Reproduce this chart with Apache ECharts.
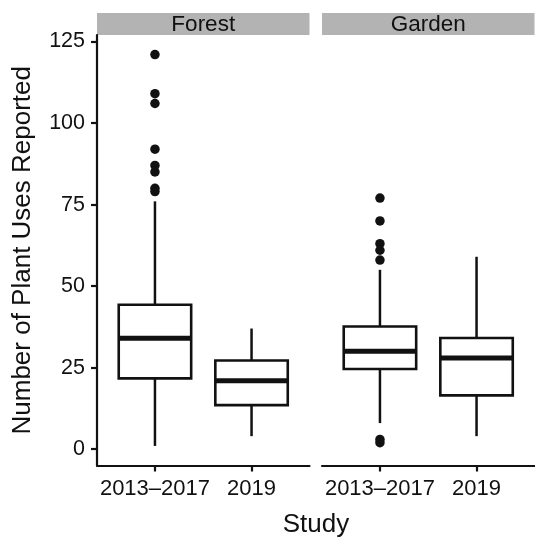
<!DOCTYPE html>
<html>
<head>
<meta charset="utf-8">
<script src="https://cdn.jsdelivr.net/npm/echarts@6/dist/echarts.min.js"></script>
<style>
  html, body { margin: 0; padding: 0; background: #fff; }
  #chart { width: 535px; height: 537px; }
</style>
</head>
<body>
<div id="chart"></div>
<script>
// Panels and study groups
const habitats = ['Forest', 'Garden'];
const studyLabels = ['2013–2017', '2019'];

// Box summaries per study: [lower whisker, Q1, median, Q3, upper whisker]
const forestBoxes = [
  [1, 21.7, 34, 44.3, 76],
  [4, 13.5, 21, 27.2, 37]
];
const gardenBoxes = [
  [8, 24.6, 30, 37.6, 55],
  [4, 16.5, 28, 34.1, 59]
];

// Outlying values (all in the 2013–2017 group)
const forestOutliers = [121, 109, 106, 92, 87, 85, 80, 79];
const gardenOutliers = [77, 70, 63, 61, 58, 3, 2];

const yTicks = [0, 25, 50, 75, 100, 125];

const FONT = '"Liberation Sans", Arial, Helvetica, sans-serif';
const INK = '#111111';
const BOX_WIDTH = 0.75;        // in x-axis units (groups at 1 and 2)
const PANEL_TOP = 35;
const PANEL_HEIGHT = 430.5;
const panelLeft = [97, 322];
const PANEL_WIDTH = 212.5;

function boxData(boxes) {
  return boxes.map((b, i) => [i + 1].concat(b));
}
function outlierData(values) {
  return values.map(v => [1, v]);
}

function renderBox(params, api) {
  const x = api.value(0);
  const pMin = api.coord([x, api.value(1)]);
  const pQ1 = api.coord([x, api.value(2)]);
  const pMed = api.coord([x, api.value(3)]);
  const pQ3 = api.coord([x, api.value(4)]);
  const pMax = api.coord([x, api.value(5)]);
  const half = api.size([BOX_WIDTH, 0])[0] / 2;
  const thin = { stroke: INK, lineWidth: 2.5, fill: null };
  return {
    type: 'group',
    children: [
      { type: 'line', shape: { x1: pMin[0], y1: pMin[1], x2: pQ1[0], y2: pQ1[1] }, style: thin },
      { type: 'line', shape: { x1: pQ3[0], y1: pQ3[1], x2: pMax[0], y2: pMax[1] }, style: thin },
      { type: 'rect', shape: { x: pQ3[0] - half, y: pQ3[1], width: half * 2, height: pQ1[1] - pQ3[1] },
        style: { fill: '#ffffff', stroke: INK, lineWidth: 2.6 } },
      { type: 'line', shape: { x1: pMed[0] - half, y1: pMed[1], x2: pMed[0] + half, y2: pMed[1] },
        style: { stroke: INK, lineWidth: 5 } }
    ]
  };
}

const grids = habitats.map((h, i) => ({
  left: panelLeft[i], top: PANEL_TOP, width: PANEL_WIDTH, height: PANEL_HEIGHT
}));

const xAxes = habitats.map((h, i) => ({
  type: 'value', gridIndex: i, min: 0.4, max: 2.6,
  splitLine: { show: false },
  axisLine: { show: true, onZero: false, lineStyle: { color: INK, width: 2.2 } },
  axisTick: { show: true, length: 6, lineStyle: { color: INK, width: 2.2 }, customValues: [1, 2] },
  axisLabel: {
    show: true, customValues: [1, 2], margin: 12,
    color: INK, fontFamily: FONT, fontSize: 22,
    formatter: v => studyLabels[Math.round(v) - 1] || ''
  }
}));

const yAxes = habitats.map((h, i) => ({
  type: 'value', gridIndex: i, min: -5, max: 127,
  show: i === 0,
  splitLine: { show: false },
  axisLine: { show: true, lineStyle: { color: INK, width: 2.2 } },
  axisTick: { show: true, length: 6, lineStyle: { color: INK, width: 2.2 }, customValues: yTicks },
  axisLabel: { show: true, customValues: yTicks, margin: 12, color: INK, fontFamily: FONT, fontSize: 21.5 },
  name: i === 0 ? 'Number of Plant Uses Reported' : '',
  nameLocation: 'middle',
  nameGap: 61,
  nameTextStyle: { color: INK, fontFamily: FONT, fontSize: 26 }
}));

const series = [];
[forestBoxes, gardenBoxes].forEach((boxes, i) => {
  series.push({
    type: 'custom', xAxisIndex: i, yAxisIndex: i,
    renderItem: renderBox,
    dimensions: ['study', 'min', 'q1', 'median', 'q3', 'max'],
    encode: { x: 0, y: [1, 2, 3, 4, 5] },
    data: boxData(boxes),
    silent: true
  });
});
[forestOutliers, gardenOutliers].forEach((vals, i) => {
  series.push({
    type: 'scatter', xAxisIndex: i, yAxisIndex: i,
    symbol: 'circle', symbolSize: 9.5,
    itemStyle: { color: INK, opacity: 1 },
    data: outlierData(vals),
    silent: true
  });
});

// Facet strips and the shared x-axis title
const graphics = [];
habitats.forEach((h, i) => {
  graphics.push({
    type: 'rect', left: panelLeft[i], top: 13,
    shape: { width: PANEL_WIDTH, height: 22 },
    style: { fill: '#b3b3b3' }, silent: true
  });
  graphics.push({
    type: 'text', x: panelLeft[i] + PANEL_WIDTH / 2, y: 24.5,
    style: { text: h, fill: INK, font: '22.5px ' + FONT, textAlign: 'center', textVerticalAlign: 'middle' },
    silent: true
  });
});
graphics.push({
  type: 'text', x: 316, y: 525,
  style: { text: 'Study', fill: INK, font: '26px ' + FONT, textAlign: 'center', textVerticalAlign: 'middle' },
  silent: true
});

const chart = echarts.init(document.getElementById('chart'), null, { renderer: 'canvas' });
chart.setOption({
  backgroundColor: '#ffffff',
  animation: false,
  grid: grids,
  xAxis: xAxes,
  yAxis: yAxes,
  series: series,
  graphic: graphics
});
</script>
</body>
</html>
